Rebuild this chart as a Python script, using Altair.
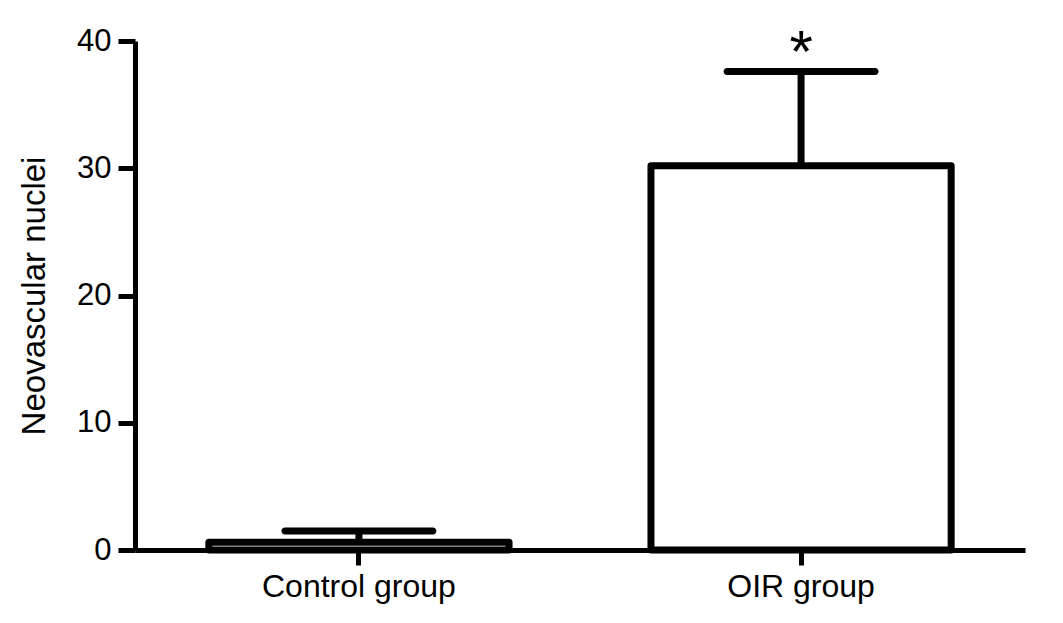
import altair as alt
import pandas as pd

groups = ["Control group", "OIR group"]
means = [0.6, 30.2]
uppers = [1.5, 37.6]
marks = ["", "*"]

df = pd.DataFrame({"group": groups, "mean": means, "upper": uppers, "mark": marks})

FONT = "Liberation Sans"
LW = 7

x = alt.X("group:N", sort=groups, title=None,
          scale=alt.Scale(paddingInner=0.321, paddingOuter=0.167),
          axis=alt.Axis(labelAngle=0, labelFontSize=32, labelFont=FONT, labelColor="black",
                        labelLimit=0, tickSize=15, tickWidth=5, tickColor="black",
                        domainWidth=5, domainColor="black", labelPadding=6))
y_axis = alt.Axis(values=[0, 10, 20, 30, 40], labelFontSize=31, labelFont=FONT, labelColor="black",
                  tickSize=17, tickWidth=5, tickColor="black", domainWidth=5, domainColor="black",
                  labelPadding=7, grid=False, title="Neovascular nuclei", titleFontSize=33,
                  titleFont=FONT, titleFontWeight="normal", titleColor="black", titlePadding=25)
y = alt.Y("mean:Q", scale=alt.Scale(domain=[0, 40], nice=False), axis=y_axis)

base = alt.Chart(df)

bars = base.mark_bar(fill="white", stroke="black", strokeWidth=LW, strokeJoin="round").encode(x=x, y=y)
err = base.mark_rule(color="black", strokeWidth=LW).encode(x=x, y="mean:Q", y2="upper:Q")
caps = base.mark_tick(color="black", size=155, thickness=LW, cornerRadius=3.5, opacity=1).encode(x=x, y="upper:Q")
star = base.mark_text(fontSize=60, font=FONT, color="black", baseline="alphabetic", dy=0).encode(
    x=x, y="upper:Q", text="mark:N")

chart = alt.layer(bars, err, caps, star).properties(
    width=890, height=509,
    autosize=alt.AutoSizeParams(type="none"),
    padding={"left": 127, "top": 33, "right": 30, "bottom": 60},
    background="white",
).configure_view(stroke=None, strokeWidth=0)

chart.save("out.html", embed_options={"renderer": "svg", "actions": False})
